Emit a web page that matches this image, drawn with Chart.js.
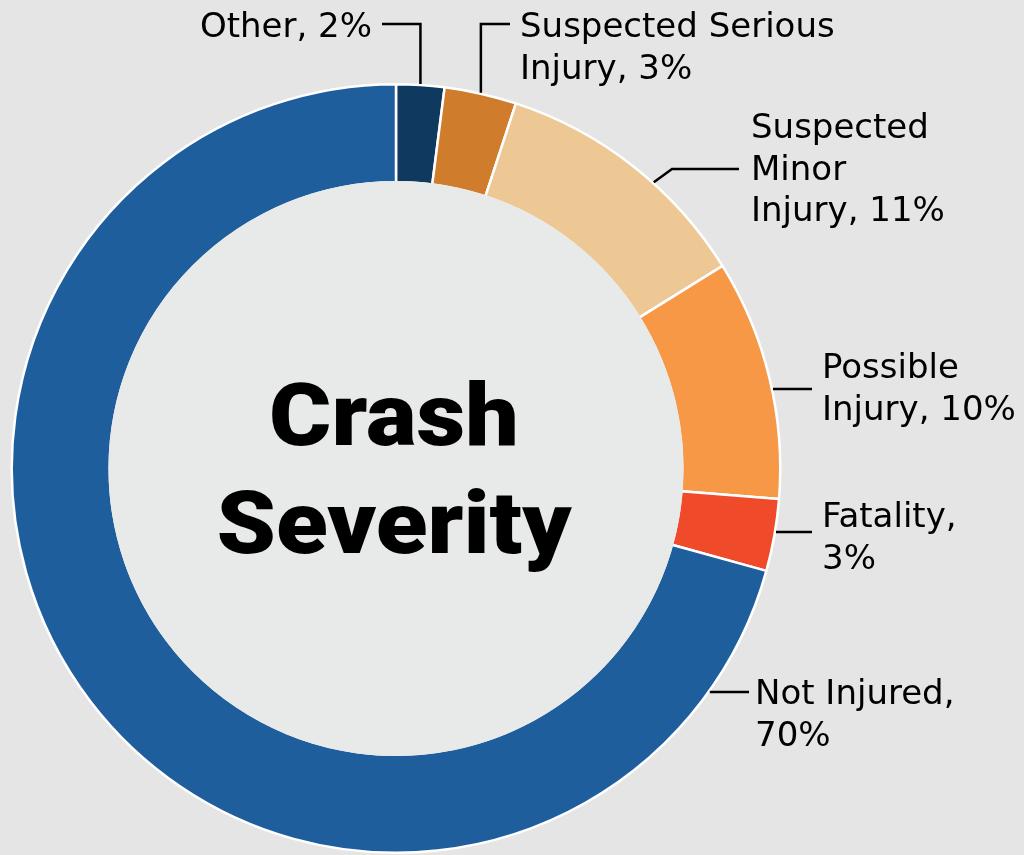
<!DOCTYPE html>
<html>
<head>
<meta charset="utf-8">
<script src="https://cdn.jsdelivr.net/npm/chart.js@4.4.0/dist/chart.umd.min.js"></script>
<style>
    html, body { margin: 0; padding: 0; background: #e5e5e5; }
    #wrap { width: 1024px; height: 855px; position: relative; }
</style>
</head>
<body>
<div id="wrap"><canvas id="severityChart"></canvas></div>
<script>
// Data
const categories = ['Other', 'Suspected Serious Injury', 'Suspected Minor Injury', 'Possible Injury', 'Fatality', 'Not Injured'];
const shares = [2, 3, 11, 10, 3, 70];
const sliceColors = ['#0f395f', '#cf7d2c', '#edc894', '#f69846', '#ef4a2a', '#1f5e9d'];
const wordsPerLine = [[2], [2, 2], [1, 1, 2], [1, 2], [1, 1], [2, 1]];
const centerTitle = ['Crash', 'Severity'];

// label placement (leader line routing and text anchor)
const labelLayout = [
    { kind: 'up', elbowY: 24, endX: 382, textX: 372, align: 'right', baseline: 37 },
    { kind: 'up', elbowY: 24, endX: 510, textX: 520, align: 'left', baseline: 37 },
    { kind: 'diag', angle: 42, elbowX: 672, elbowY: 169, endX: 739, textX: 751, align: 'left', baseline: 138 },
    { kind: 'side', y: 389, endX: 812, textX: 822, align: 'left', baseline: 378 },
    { kind: 'side', y: 532, endX: 812, textX: 822, align: 'left', baseline: 527 },
    { kind: 'side', y: 692, endX: 749, textX: 755, align: 'left', baseline: 704 }
];

const LABEL_FONT = '34px "DejaVu Sans", sans-serif';
const LINE_GAP = 41.5;
const INNER_COLOR = '#e8e9e9';

function splitLabel(i) {
    const words = (categories[i] + ', ' + shares[i] + '%').split(' ');
    const lines = [];
    let k = 0;
    wordsPerLine[i].forEach(n => {
        lines.push(words.slice(k, k + n).join(' '));
        k += n;
    });
    return lines;
}

const leaderLabels = {
    id: 'leaderLabels',
    afterDatasetsDraw(chart) {
        const ctx = chart.ctx;
        const arcs = chart.getDatasetMeta(0).data;
        const first = arcs[0];
        ctx.save();

        // inner disc, also hides the white border on the inner edge
        ctx.fillStyle = INNER_COLOR;
        ctx.beginPath();
        ctx.arc(first.x, first.y, first.innerRadius + 1.3, 0, Math.PI * 2);
        ctx.fill();

        ctx.strokeStyle = '#000';
        ctx.lineWidth = 2.5;
        ctx.fillStyle = '#000';
        ctx.font = LABEL_FONT;
        ctx.textBaseline = 'alphabetic';

        arcs.forEach((arc, i) => {
            const lay = labelLayout[i];
            const cx = arc.x, cy = arc.y, r = arc.outerRadius + 1;
            let pts = [];
            if (lay.kind === 'up') {
                const mid = (arc.startAngle + arc.endAngle) / 2;
                const sx = cx + r * Math.cos(mid);
                const sy = cy + r * Math.sin(mid);
                pts = [[sx, sy], [sx, lay.elbowY], [lay.endX, lay.elbowY]];
            } else if (lay.kind === 'diag') {
                const a = -Math.PI / 2 + lay.angle * Math.PI / 180;
                pts = [[cx + r * Math.cos(a), cy + r * Math.sin(a)], [lay.elbowX, lay.elbowY], [lay.endX, lay.elbowY]];
            } else {
                const dy = lay.y - cy;
                const sx = cx + Math.sqrt(r * r - dy * dy);
                pts = [[sx, lay.y], [lay.endX, lay.y]];
            }
            ctx.beginPath();
            ctx.moveTo(pts[0][0], pts[0][1]);
            pts.slice(1).forEach(p => ctx.lineTo(p[0], p[1]));
            ctx.stroke();

            ctx.textAlign = lay.align;
            splitLabel(i).forEach((line, j) => {
                ctx.fillText(line, lay.textX, lay.baseline + j * LINE_GAP);
            });
        });

        // center title, stretched a little to match the wide heavy face
        ctx.font = '900 88px Roboto, "DejaVu Sans", sans-serif';
        ctx.textAlign = 'center';
        const stretch = 1.08;
        ctx.translate(first.x - 2, 0);
        ctx.scale(stretch, 1);
        ctx.fillText(centerTitle[0], 0, 445);
        ctx.fillText(centerTitle[1], 0, 553);
        ctx.restore();
    }
};

const ctx = document.getElementById('severityChart').getContext('2d');
new Chart(ctx, {
    type: 'doughnut',
    data: {
        labels: categories,
        datasets: [{
            data: shares,
            backgroundColor: sliceColors,
            borderColor: '#ffffff',
            borderWidth: 2.5
        }]
    },
    options: {
        responsive: true,
        maintainAspectRatio: false,
        animation: false,
        cutout: '74.5%',
        layout: { padding: { top: 83, bottom: 1, left: 10, right: 242 } },
        plugins: {
            legend: { display: false },
            tooltip: { enabled: false }
        },
        events: []
    },
    plugins: [leaderLabels]
});
</script>
</body>
</html>
